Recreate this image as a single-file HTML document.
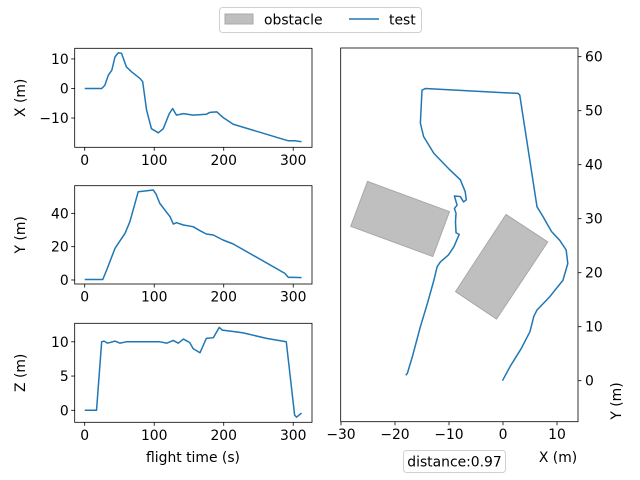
<!DOCTYPE html>
<html><head><meta charset="utf-8"><style>
body{margin:0;background:#fff}
svg{display:block;font-family:"DejaVu Sans","Liberation Sans",sans-serif}
</style></head><body>
<svg id="fig" width="640" height="480" viewBox="0 0 640 480"></svg>
<script>
const tX=[0,24.4,29,34,39,43.6,48.4,53,60,67.6,79.5,83.4,89,96,105.9,113,121.7,126.5,132,142,156,175,180,190,199,213.7,285.6,293,302,312];
const vX=[0,0,1.1,4.5,6.2,10.7,12.1,11.9,7.3,5.6,3.4,2.3,-7.3,-13.6,-15,-13.6,-8.5,-6.8,-9,-8.5,-9,-8.7,-8.1,-7.9,-9.8,-12.1,-17.2,-17.7,-17.7,-18];
const tY=[0,26,31.6,43.6,58,65,77,98.7,102.6,108,122.7,127.5,132,142,156,165.8,175,185,199,213.7,288,293,302,312];
const vY=[0.3,0.3,6,19,28,35,53,54,51.6,46,38,33.6,34.4,33,32,29.6,27.6,27,24,21.6,4,1.6,1.6,1.4];
const tZ=[0,17,24.4,27.8,32.6,43.6,50.8,60,79.5,108,118,127.5,134.6,142,151,156,165.8,175,185,193.6,198,213.7,228,261.6,290,302,304.7,312];
const vZ=[0,0,10,10.1,9.8,10.1,9.8,10,10,10,9.8,10.2,9.8,10.4,9.9,9,8.4,10.5,10.6,12.1,11.7,11.5,11.3,10.5,10,-0.7,-1,-0.4];
const pathX=[-0.1,1.3,3.4,5.0,5.7,6.3,8.7,11.1,12.0,11.7,10.5,9.0,8.3,7.4,6.3,3.1,2.8,-14.4,-15.0,-15.3,-14.7,-12.8,-9.8,-7.9,-7.0,-6.8,-7.3,-7.9,-9.0,-8.5,-9.0,-8.7,-8.8,-8.7,-8.1,-9.1,-10.1,-11.6,-12.2,-12.8,-14.0,-15.3,-16.8,-17.7,-18.0];
const pathY=[0,2.6,6.0,9.1,11.9,13.1,15.6,18.6,21.7,24.2,26.0,27.6,28.8,30.4,32.2,52.9,53.2,54.1,53.8,47.7,45.2,42.1,39.0,37.2,35.0,33.5,33.1,34.1,34.2,32.5,31.9,31.0,29.4,27.4,27.1,24.8,23.3,22.0,21.1,18.6,14.3,10.0,4.4,1.4,1.0];
const obs1X=[-25.1,-9.9,-13.0,-28.2], obs1Y=[36.9,31.3,23.0,28.6];
const obs2X=[0.55,8.3,-1.2,-8.8], obs2Y=[30.8,25.7,11.4,16.5];
const timeTicks=[0,100,200,300];
const xTicks=[10,0,-10], yTicks=[0,20,40], zTicks=[0,5,10];
const mapXTicks=[-30,-20,-10,0,10], mapYTicks=[0,10,20,30,40,50,60];

const NS='http://www.w3.org/2000/svg';
const svg=document.getElementById('fig');
function mk(tag,attrs,parent){const e=document.createElementNS(NS,tag);for(const k in attrs)e.setAttribute(k,attrs[k]);(parent||svg).appendChild(e);return e;}
function txt(s,x,y,anchor,parent,extra){const e=mk('text',Object.assign({x:x,y:y,'font-size':'13.9','text-anchor':anchor,fill:'#000'},extra||{}),parent);e.textContent=s;return e;}
function lin(d0,d1,p0,p1){return v=>p0+(v-d0)*(p1-p0)/(d1-d0);}

function small(name,top,bot,ymin,ymax,ts,vs,ticks,label,showXlabel){
  const g=mk('g',{});
  
  
  const L=74.7,R=312;
  const sx=lin(-14.4,327,L,R), sy=lin(ymin,ymax,bot,top);
  let d='';ts.forEach((t,i)=>{d+=(i?'L':'M')+sx(t).toFixed(2)+','+sy(vs[i]).toFixed(2);});
  const p=mk('path',{d:d,fill:'none',stroke:'#1f77b4','stroke-width':1.5,'stroke-linejoin':'round'},g);
  
  
  mk('rect',{x:L,y:top,width:R-L,height:bot-top,fill:'none',stroke:'#000','stroke-width':0.8},g);
  timeTicks.forEach(t=>{const x=sx(t);mk('line',{x1:x,x2:x,y1:bot,y2:bot+3.5,stroke:'#000','stroke-width':0.8},g);
    txt(String(t),x,bot+17.5,'middle',g);});
  ticks.forEach(v=>{const y=sy(v);mk('line',{x1:L,x2:L-3.5,y1:y,y2:y,stroke:'#000','stroke-width':0.8},g);
    txt(String(v).replace('-','\u2212'),L-6,y+5,'end',g);});
  const yl=txt(label,0,0,'middle',g,{transform:'translate(25,'+((top+bot)/2)+') rotate(-90)'});
  
  
  if(showXlabel){const xl=txt('flight time (s)',193,462,'middle',g);
    
    }
}
small('x-vs-time-plot',48.3,147.3,-19.9,13.6,tX,vX,xTicks,'X (m)',false);
small('y-vs-time-plot',185.7,284,-2.4,56.6,tY,vY,yTicks,'Y (m)',false);
small('z-vs-time-plot',323.3,422.3,-1.75,12.7,tZ,vZ,zTicks,'Z (m)',true);

// map
const mg=mk('g',{});


const ML=340.7,MR=578,MT=48,MB=421.7;
const mx=v=>503+v*5.4, my=v=>380.7-v*5.4;
[[obs1X,obs1Y,'obstacle-1'],[obs2X,obs2Y,'obstacle-2']].forEach(o=>{
  const pts=o[0].map((x,i)=>mx(x).toFixed(1)+','+my(o[1][i]).toFixed(1)).join(' ');
  const pg=mk('polygon',{points:pts,fill:'#bfbfbf',stroke:'#a8a8a8','stroke-width':1},mg);
  
  
});
let md='';pathX.forEach((x,i)=>{md+=(i?'L':'M')+mx(x).toFixed(2)+','+my(pathY[i]).toFixed(2);});
const mp=mk('path',{d:md,fill:'none',stroke:'#1f77b4','stroke-width':1.5,'stroke-linejoin':'round'},mg);


mk('rect',{x:ML,y:MT,width:MR-ML,height:MB-MT,fill:'none',stroke:'#000','stroke-width':0.8},mg);
mapXTicks.forEach(v=>{const x=mx(v);mk('line',{x1:x,x2:x,y1:MB,y2:MB+3.5,stroke:'#000','stroke-width':0.8},mg);
  txt(String(v).replace('-','\u2212'),x,MB+17.5,'middle',mg);});
mapYTicks.forEach(v=>{const y=my(v);mk('line',{x1:MR,x2:MR+3.5,y1:y,y2:y,stroke:'#000','stroke-width':0.8},mg);
  txt(String(v),MR+7,y+5,'start',mg);});
const mxl=txt('X (m)',558,462,'middle',mg);


const myl=txt('Y (m)',0,0,'middle',mg,{transform:'translate(621,401) rotate(-90)'});


</script>
<svg style="position:absolute;left:0;top:0" width="640" height="480">
  <g>
    <rect x="219.5" y="7.5" width="202" height="25" rx="3" fill="#fff" stroke="#d0d0d0"/>
    <rect x="225" y="14" width="28" height="10" fill="#bfbfbf" stroke="#a8a8a8"/>
    <text x="264" y="24.5" font-size="13.9" font-family="DejaVu Sans, Liberation Sans, sans-serif">obstacle</text>
    <line x1="349" x2="379" y1="19" y2="19" stroke="#1f77b4" stroke-width="1.5"/>
    <text x="389" y="24.5" font-size="13.9" font-family="DejaVu Sans, Liberation Sans, sans-serif">test</text>
  </g>
  <g>
    <rect x="403.5" y="450.5" width="102" height="22" rx="3" fill="#fff" stroke="#d0d0d0"/>
    <text x="454.5" y="466.5" font-size="13.9" text-anchor="middle" font-family="DejaVu Sans, Liberation Sans, sans-serif">distance:0.97</text>
  </g>
</svg>
</body></html>
